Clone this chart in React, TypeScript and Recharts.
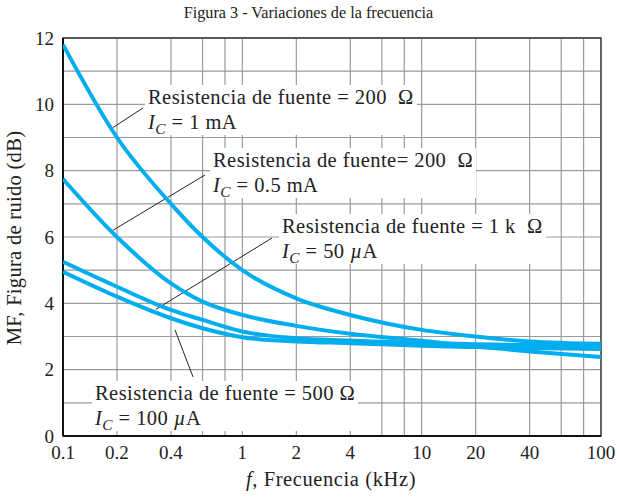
import React from 'react';
import { LineChart, Line, XAxis, YAxis, CartesianGrid, ReferenceLine, ReferenceArea } from 'recharts';

// frecuencias (kHz)
const freqs = [0.1, 0.2, 0.4, 0.6, 1, 2, 4, 10, 20, 40, 100];

// MF (dB) para cada curva
const rs200ic1mA = [11.8, 9.0, 7.0, 6.0, 5.0, 4.15, 3.65, 3.2, 3.0, 2.85, 2.78];
const rs200ic05mA = [7.75, 6.0, 4.6, 4.05, 3.65, 3.32, 3.08, 2.87, 2.7, 2.55, 2.38];
const rs1kic50uA = [5.25, 4.5, 3.8, 3.5, 3.15, 2.95, 2.88, 2.8, 2.77, 2.74, 2.72];
const rs500ic100uA = [4.95, 4.2, 3.55, 3.25, 2.98, 2.85, 2.8, 2.72, 2.68, 2.65, 2.62];

// lineas de la grilla y etiquetas
const xGrid = [0.1, 0.2, 0.4, 0.6, 0.8, 1, 2, 4, 6, 8, 10, 20, 40, 60, 80, 100];
const xLabeled = [0.1, 0.2, 0.4, 1, 2, 4, 10, 20, 40, 100];
const yGrid = [0, 1, 2, 3, 4, 5, 6, 7, 8, 9, 10, 11, 12];

const data = freqs.map((f, i) => ({
  f,
  a: rs200ic1mA[i],
  b: rs200ic05mA[i],
  c: rs1kic50uA[i],
  d: rs500ic100uA[i],
}));

// lineas guia de las anotaciones (coordenadas de datos)
const leaders = [
  [{ x: 0.19, y: 9.3 }, { x: 0.279, y: 9.89 }],
  [{ x: 0.183, y: 6.15 }, { x: 0.619, y: 7.87 }],
  [{ x: 0.33, y: 3.82 }, { x: 1.464, y: 5.97 }],
  [{ x: 0.421, y: 3.2 }, { x: 0.531, y: 1.78 }],
];

const serif = '"Liberation Serif", "DejaVu Serif", serif';
const blue = '#00AEEF';

const Ic = () => (
  <span>
    <i>I</i>
    <sub style={{ fontSize: '0.75em', fontStyle: 'italic', verticalAlign: '-0.3em', lineHeight: 0 }}>C</sub>
  </span>
);

const noteStyle = (left: number, top: number): React.CSSProperties => ({
  position: 'absolute',
  left,
  top,
  background: '#fff',
  padding: '0 3px',
  fontFamily: serif,
  fontSize: 20.5,
  letterSpacing: 0.45,
  lineHeight: '25px',
  color: '#222',
  whiteSpace: 'nowrap',
});

export default function App() {
  return (
    <div style={{ position: 'absolute', left: 0, top: 0, width: 617, height: 500, background: '#fff', fontFamily: serif }}>
      <div style={{ position: 'absolute', left: 0, width: 617, top: 4, textAlign: 'center', fontSize: 16.2, color: '#222' }}>
        Figura 3 - Variaciones de la frecuencia
      </div>

      <LineChart width={617} height={500} data={data} margin={{ top: 38, right: 16, bottom: 34, left: 3 }}>
        <CartesianGrid stroke="#9a9a9a" strokeWidth={1.2} />
        <XAxis
          dataKey="f"
          type="number"
          scale="log"
          domain={[0.1, 100]}
          ticks={xGrid}
          interval={0}
          tickFormatter={(v: number) => (xLabeled.includes(v) ? String(v) : '')}
          axisLine={false}
          tickLine={false}
          tickSize={0}
          tickMargin={10}
          allowDataOverflow
          tick={{ fontFamily: serif, fontSize: 19, fill: '#222' }}
        />
        <YAxis
          type="number"
          domain={[0, 12]}
          ticks={yGrid}
          interval={0}
          tickFormatter={(v: number) => (v % 2 === 0 ? String(v) : '')}
          axisLine={false}
          tickLine={false}
          tickSize={0}
          tickMargin={9}
          width={60}
          tick={{ fontFamily: serif, fontSize: 19, fill: '#222' }}
        />
        <ReferenceArea x1={0.1} x2={100} y1={0} y2={12} fill="none" stroke="#333" strokeWidth={1.3} />
        <ReferenceLine x={0.1} stroke="#111" strokeWidth={2} />
        <ReferenceLine y={0} stroke="#111" strokeWidth={2} />
        {leaders.map((seg, i) => (
          <ReferenceLine key={i} segment={seg} stroke="#222" strokeWidth={1} ifOverflow="visible" />
        ))}
        <Line type="monotone" dataKey="a" stroke={blue} strokeWidth={4} dot={false} isAnimationActive={false} />
        <Line type="monotone" dataKey="b" stroke={blue} strokeWidth={4} dot={false} isAnimationActive={false} />
        <Line type="monotone" dataKey="c" stroke={blue} strokeWidth={4} dot={false} isAnimationActive={false} />
        <Line type="monotone" dataKey="d" stroke={blue} strokeWidth={4} dot={false} isAnimationActive={false} />
      </LineChart>

      <div style={noteStyle(145, 85)}>
        Resistencia de fuente = 200 &nbsp;Ω
        <br />
        <Ic /> = 1 mA
      </div>
      <div style={noteStyle(210, 148)}>
        Resistencia de fuente= 200 &nbsp;Ω
        <br />
        <Ic /> = 0.5 mA
      </div>
      <div style={noteStyle(279, 214)}>
        Resistencia de fuente = 1 k &nbsp;Ω
        <br />
        <Ic /> = 50 <i>µ</i>A
      </div>
      <div style={noteStyle(92, 381)}>
        Resistencia de fuente = 500 Ω
        <br />
        <Ic /> = 100 <i>µ</i>A
      </div>

      <div
        style={{
          position: 'absolute',
          left: 14,
          top: 238,
          transform: 'translate(-50%, -50%) rotate(-90deg)',
          fontSize: 20.5,
          letterSpacing: 0.3,
          color: '#222',
          whiteSpace: 'nowrap',
        }}
      >
        MF, Figura de ruido (dB)
      </div>
      <div style={{ position: 'absolute', left: 0, width: 662, top: 468, textAlign: 'center', fontSize: 20.5, letterSpacing: 0.6, color: '#222' }}>
        <i>f</i>, Frecuencia (kHz)
      </div>
    </div>
  );
}
